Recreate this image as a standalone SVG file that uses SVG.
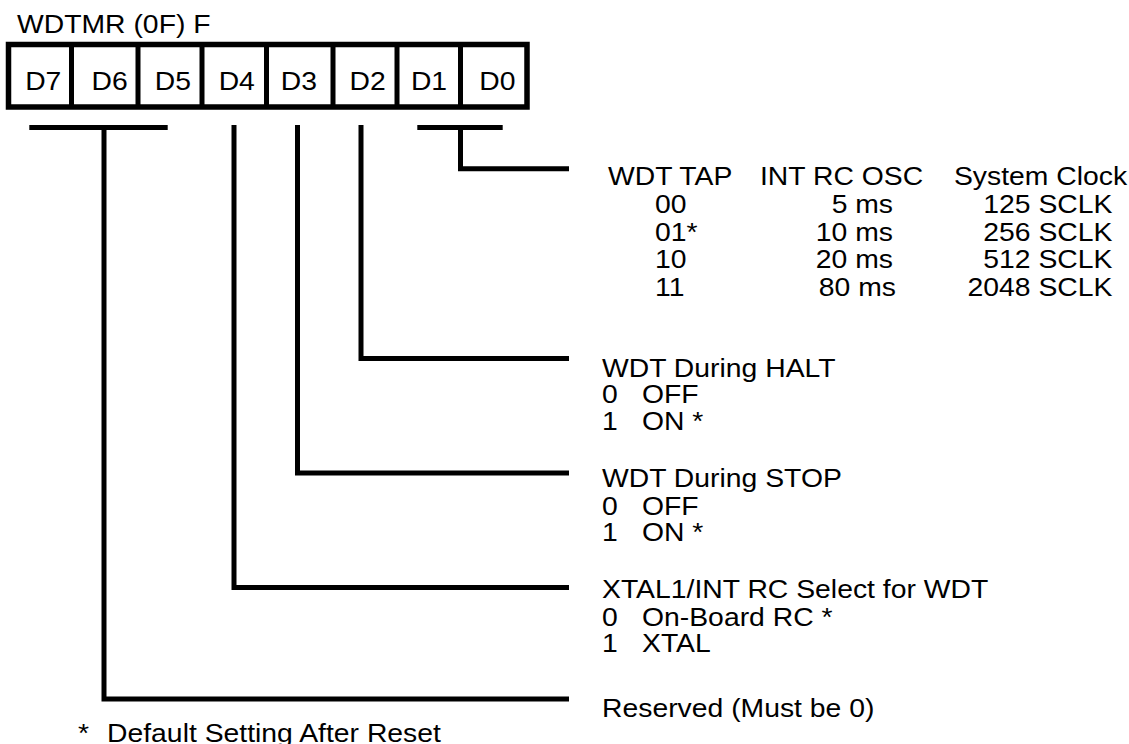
<svg xmlns="http://www.w3.org/2000/svg" width="1129" height="744" viewBox="0 0 1129 744">
<style>
.t{font-family:"Liberation Sans",Arial,Helvetica,sans-serif;font-size:26px;fill:#000}
.m{text-anchor:middle}
.e{text-anchor:end}
.ln{fill:none;stroke:#000;stroke-width:5;stroke-linejoin:miter;stroke-linecap:butt}
</style>
<rect width="1129" height="744" fill="#fff"/>
<g id="register">
<rect x="8.5" y="44.5" width="518.5" height="62.5" class="ln" style="stroke-width:5.5"/>
<path class="ln" d="M71.5 44.5V107M138 44.5V107M202 44.5V107M266.5 44.5V107M333 44.5V107M397 44.5V107M460.5 44.5V107"/>
<g transform="scale(1.09 1)">
<text class="t" x="15.6" y="33">WDTMR (0F) F</text>
<text class="t m" x="39.7" y="90">D7</text>
<text class="t m" x="100.6" y="90">D6</text>
<text class="t m" x="158.7" y="90">D5</text>
<text class="t m" x="217.2" y="90">D4</text>
<text class="t m" x="274.3" y="90">D3</text>
<text class="t m" x="337.2" y="90">D2</text>
<text class="t m" x="393.6" y="90">D1</text>
<text class="t m" x="456.4" y="90">D0</text>
</g>
</g>
<g id="connectors">
<path class="ln" d="M29.3 127.5H167.7"/>
<path class="ln" d="M104 125V699H569"/>
<path class="ln" d="M234 125V587.5H569"/>
<path class="ln" d="M297.5 125V473H569"/>
<path class="ln" d="M361 125V358.5H569"/>
<path class="ln" d="M417.3 127.5H502.7"/>
<path class="ln" d="M460.5 127.5V168.8H569"/>
</g>
<g id="wdt-tap" transform="scale(1.09 1)">
<text class="t" x="557.8" y="185.5">WDT TAP</text>
<text class="t" x="697.2" y="185.5">INT RC OSC</text>
<text class="t" x="875.2" y="185.5">System Clock</text>
<text class="t" x="600.9" y="213.5">00</text>
<text class="t" x="600.9" y="241">01*</text>
<text class="t" x="600.9" y="268.5">10</text>
<text class="t" x="600.9" y="296">11</text>
<text class="t e" x="819.3" y="213.5">5 ms</text>
<text class="t e" x="819.3" y="241">10 ms</text>
<text class="t e" x="819.3" y="268.5">20 ms</text>
<text class="t e" x="822" y="296">80 ms</text>
<text class="t e" x="1020.6" y="213.5">125 SCLK</text>
<text class="t e" x="1020.6" y="241">256 SCLK</text>
<text class="t e" x="1020.6" y="268.5">512 SCLK</text>
<text class="t e" x="1020.6" y="296">2048 SCLK</text>
</g>
<g id="wdt-halt" transform="scale(1.09 1)">
<text class="t" x="552.3" y="377">WDT During HALT</text>
<text class="t" y="403.5"><tspan x="552.3">0</tspan><tspan x="589">OFF</tspan></text>
<text class="t" y="430"><tspan x="552.3">1</tspan><tspan x="589">ON *</tspan></text>
</g>
<g id="wdt-stop" transform="scale(1.09 1)">
<text class="t" x="552.3" y="487.5">WDT During STOP</text>
<text class="t" y="515"><tspan x="552.3">0</tspan><tspan x="589">OFF</tspan></text>
<text class="t" y="541.5"><tspan x="552.3">1</tspan><tspan x="589">ON *</tspan></text>
</g>
<g id="xtal-select" transform="scale(1.09 1)">
<text class="t" x="552.3" y="598.5">XTAL1/INT RC Select for WDT</text>
<text class="t" y="626"><tspan x="552.3">0</tspan><tspan x="589">On-Board RC *</tspan></text>
<text class="t" y="652.5"><tspan x="552.3">1</tspan><tspan x="589">XTAL</tspan></text>
</g>
<g id="reserved" transform="scale(1.09 1)">
<text class="t" x="552.3" y="717">Reserved (Must be 0)</text>
</g>
<g id="footnote" transform="scale(1.09 1)">
<text class="t" y="742"><tspan x="71.6">*</tspan><tspan x="98.2">Default Setting After Reset</tspan></text>
</g>
</svg>
